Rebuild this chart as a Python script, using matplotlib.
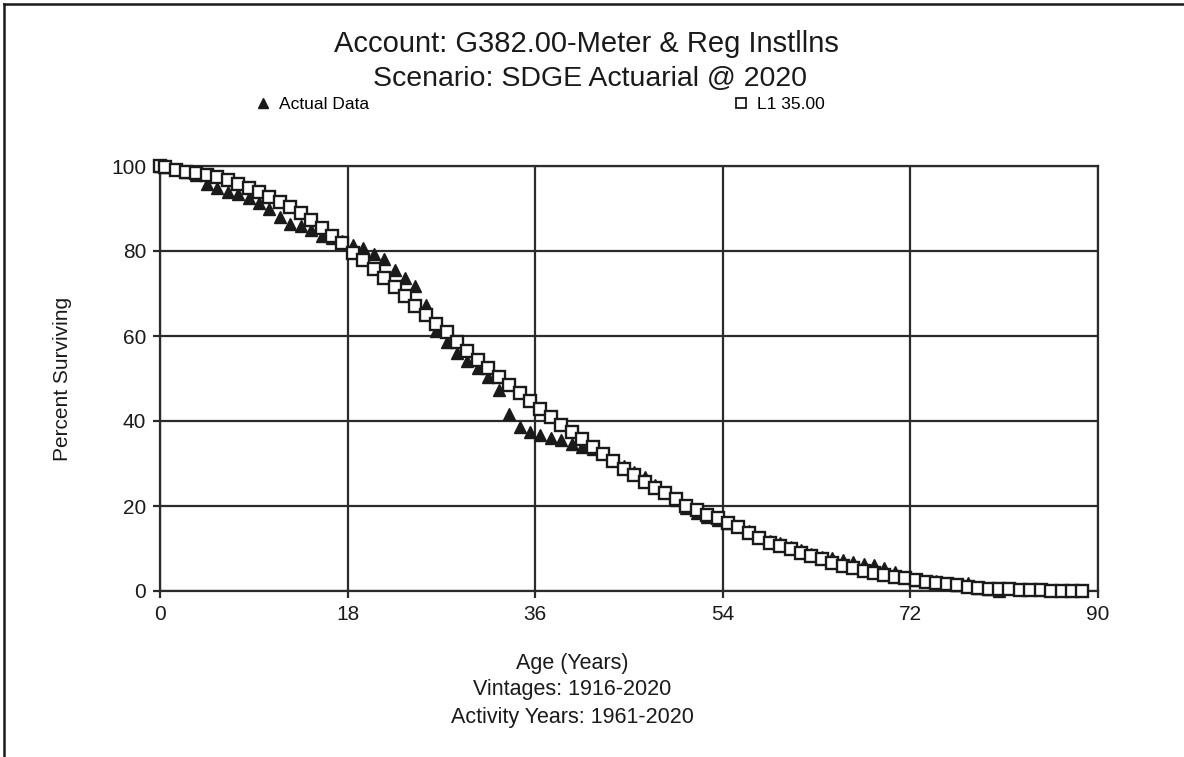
import matplotlib
matplotlib.use('Agg')
import matplotlib.pyplot as plt
from matplotlib.lines import Line2D

plt.rcParams['font.family'] = ['Liberation Sans', 'DejaVu Sans']

# observed survivors by age interval (percent)
actual_ages = [0, 0.5, 1.5, 2.5, 3.5, 4.5, 5.5, 6.5, 7.5, 8.5, 9.5,
               10.5, 11.5, 12.5, 13.5, 14.5, 15.5, 16.5, 17.5, 18.5, 19.5,
               20.5, 21.5, 22.5, 23.5, 24.5, 25.5, 26.5, 27.5, 28.5, 29.5,
               30.5, 31.5, 32.5, 33.5, 34.5, 35.5, 36.5, 37.5, 38.5, 39.5,
               40.5, 41.5, 42.5, 43.5, 44.5, 45.5, 46.5, 47.5, 48.5, 49.5,
               50.5, 51.5, 52.5, 53.5, 54.5, 55.5, 56.5, 57.5, 58.5, 59.5,
               60.5, 61.5, 62.5, 63.5, 64.5, 65.5, 66.5, 67.5, 68.5, 69.5,
               70.5, 71.5, 72.5, 73.5, 74.5, 75.5, 76.5, 77.5, 78.5, 79.5,
               80.5]
actual_pct = [100.0, 99.8, 99.2, 98.6, 97.8, 95.8, 94.8, 94.0, 93.4, 92.5, 91.4,
              89.8, 88.1, 86.4, 85.9, 85.0, 83.6, 83.0, 82.3, 81.4, 80.6,
              79.3, 78.1, 75.5, 73.6, 71.8, 67.2, 61.2, 58.6, 55.9, 54.2,
              52.4, 50.3, 47.3, 41.7, 38.7, 37.3, 36.6, 36.0, 35.5, 34.6,
              33.8, 33.3, 32.4, 30.9, 29.5, 28.0, 26.8, 25.0, 23.2, 21.5,
              19.6, 18.4, 17.4, 16.6, 16.0, 15.2, 14.2, 12.8, 11.8, 11.2,
              10.4, 9.6, 8.7, 8.1, 7.8, 7.3, 6.8, 6.4, 6.1, 5.4,
              4.4, 3.3, 2.7, 2.3, 2.3, 2.0, 1.5, 1.8, 0.8, 0.5,
              0.0]

# fitted Iowa L1 curve, 35 year average life
l1_ages = actual_ages + [81.5, 82.5, 83.5, 84.5, 85.5, 86.5, 87.5, 88.5]
l1_pct = [100.0, 99.7, 99.1, 98.7, 98.4, 98.0, 97.5, 96.6, 95.8, 94.8, 94.0,
          92.8, 91.6, 90.4, 89.0, 87.3, 85.4, 83.6, 81.8, 79.6, 77.8,
          75.7, 73.6, 71.5, 69.3, 67.1, 65.0, 62.9, 60.9, 58.7, 56.5,
          54.4, 52.4, 50.3, 48.4, 46.5, 44.7, 42.8, 41.0, 39.1, 37.4,
          35.7, 34.0, 32.2, 30.5, 28.8, 27.2, 25.6, 24.3, 23.0, 21.7,
          20.1, 19.0, 18.0, 17.2, 16.1, 15.0, 13.7, 12.5, 11.4, 10.6,
          9.8, 9.0, 8.2, 7.5, 6.7, 6.0, 5.3, 4.8, 4.2, 3.8,
          3.4, 3.0, 2.6, 2.2, 1.8, 1.6, 1.3, 1.0, 0.7, 0.5,
          0.4, 0.4, 0.3, 0.3, 0.3, 0.1, 0.1, 0.1, 0.1]

x_ticks = [0, 18, 36, 54, 72, 90]
y_ticks = [0, 20, 40, 60, 80, 100]

W, H = 1184, 757
fig = plt.figure(figsize=(W / 100, H / 100), dpi=100)
ax = fig.add_axes([160 / W, 1 - 591 / H, (1098 - 160) / W, (591 - 166) / H])

ink = '#1a1a1a'
ax.plot(actual_ages, actual_pct, linestyle='none', marker='^', ms=8.5,
        color=ink, clip_on=False, zorder=3)
ax.plot(l1_ages, l1_pct, linestyle='none', marker='s', ms=8.5,
        mfc='white', mec=ink, mew=1.7, clip_on=False, zorder=4)

ax.set_xlim(0, 90)
ax.set_ylim(0, 100)
ax.set_xticks(x_ticks)
ax.set_yticks(y_ticks)
ax.grid(True, color='#2b2b2b', lw=1.6)
for s in ax.spines.values():
    s.set_color('#2b2b2b')
    s.set_linewidth(1.6)
ax.tick_params(direction='out', length=5, width=1.6, color='#2b2b2b',
               labelsize=15, pad=5, labelcolor=ink)

# titles and axis captions
fig.text(586 / W, 1 - 44 / H, 'Account: G382.00-Meter & Reg Instllns',
         ha='center', va='center', fontsize=21, color=ink)
fig.text(590 / W, 1 - 79 / H, 'Scenario: SDGE Actuarial @ 2020',
         ha='center', va='center', fontsize=20.5, color=ink)
fig.text(62 / W, 1 - 379 / H, 'Percent Surviving', rotation=90,
         ha='center', va='center', fontsize=15, color=ink)
fig.text(572 / W, 1 - 664 / H, 'Age (Years)', ha='center', va='center',
         fontsize=15.5, color=ink)
fig.text(572 / W, 1 - 690 / H, 'Vintages: 1916-2020', ha='center',
         va='center', fontsize=15.5, color=ink)
fig.text(572 / W, 1 - 717 / H, 'Activity Years: 1961-2020', ha='center',
         va='center', fontsize=15.5, color=ink)

# legend entries
h_act = Line2D([], [], linestyle='none', marker='^', ms=7, color=ink)
h_l1 = Line2D([], [], linestyle='none', marker='s', ms=7, mfc='white',
              mec=ink, mew=1.3)
for handle, label, xpos in [(h_act, 'Actual Data', 256),
                            (h_l1, 'L1 35.00', 734)]:
    fig.legend([handle], [label], loc='center left',
               bbox_to_anchor=(xpos / W, 1 - 104 / H), frameon=False,
               fontsize=12.5, handlelength=0.8, handletextpad=0.5,
               borderpad=0, borderaxespad=0)

# page frame
fig.add_artist(Line2D([4 / W, 4 / W], [0, 1 - 4 / H], color=ink, lw=1.8))
fig.add_artist(Line2D([4 / W, 1], [1 - 4 / H, 1 - 4 / H], color=ink, lw=1.8))

fig.savefig('out.png', dpi=100, facecolor='white')
